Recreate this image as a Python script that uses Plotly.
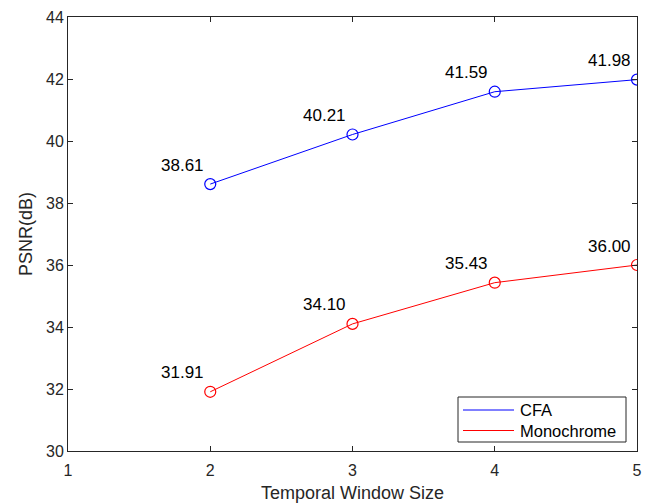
import plotly.graph_objects as go

window_sizes = [2, 3, 4, 5]
cfa_psnr = [38.61, 40.21, 41.59, 41.98]
mono_psnr = [31.91, 34.10, 35.43, 36.00]
x_ticks = [1, 2, 3, 4, 5]
y_ticks = [30, 32, 34, 36, 38, 40, 42, 44]
series_names = ["CFA", "Monochrome"]
series_colors = ["#0000ff", "#ff0000"]

FONT = "Liberation Sans"
W, H = 649, 504
ML, MR, MT, MB = 68, 12, 17, 53
PW, PH = W - ML - MR, H - MT - MB


def px(x):
    return (x - ML) / PW


def py(y):
    return (H - MB - y) / PH


fig = go.Figure()
for name, vals, col in zip(series_names, [cfa_psnr, mono_psnr], series_colors):
    fig.add_trace(go.Scatter(x=window_sizes, y=vals, mode="lines+markers", name=name, showlegend=False,
                             line=dict(color=col, width=1),
                             marker=dict(symbol="circle-open", size=11, color=col, line=dict(width=1.2))))
    for x, y in zip(window_sizes, vals):
        fig.add_annotation(x=x, y=y, text=f"{y:.2f}", showarrow=False,
                           xshift=-28, yshift=19,
                           font=dict(family=FONT, size=17, color="black"))

# legend box drawn in MATLAB style
fig.add_shape(type="rect", xref="paper", yref="paper", x0=px(458), x1=px(626), y0=py(442), y1=py(397),
              line=dict(color="#262626", width=1), fillcolor="white", layer="above")
for i, (name, col) in enumerate(zip(series_names, series_colors)):
    yy = 410 + i * 20.5
    fig.add_shape(type="line", xref="paper", yref="paper", x0=px(463), x1=px(514), y0=py(yy), y1=py(yy),
                  line=dict(color=col, width=1), layer="above")
    fig.add_annotation(xref="paper", yref="paper", x=px(518), y=py(yy), text=name, showarrow=False,
                       xanchor="left", yanchor="middle", font=dict(family=FONT, size=16.5, color="black"))

axis_common = dict(showgrid=False, zeroline=False, showline=True, linecolor="#262626", linewidth=1,
                   mirror="allticks", ticks="inside", ticklen=5, tickcolor="#262626", automargin=False,
                   tickfont=dict(family=FONT, size=16, color="#262626"))
fig.update_xaxes(range=[1, 5], tickvals=x_ticks, ticklabelstandoff=5,
                 title=dict(text="Temporal Window Size", font=dict(family=FONT, size=18, color="#262626"), standoff=8),
                 **axis_common)
fig.update_yaxes(range=[30, 44], tickvals=y_ticks,
                 title=dict(text="PSNR(dB)", font=dict(family=FONT, size=18, color="#262626"), standoff=8),
                 **axis_common)

fig.update_layout(width=W, height=H, margin=dict(l=ML, r=MR, t=MT, b=MB),
                  plot_bgcolor="white", paper_bgcolor="white", showlegend=False)

fig.write_html("out.html", config={"displayModeBar": False},
               post_script="document.body.style.margin='0';document.body.style.overflow='hidden';")
